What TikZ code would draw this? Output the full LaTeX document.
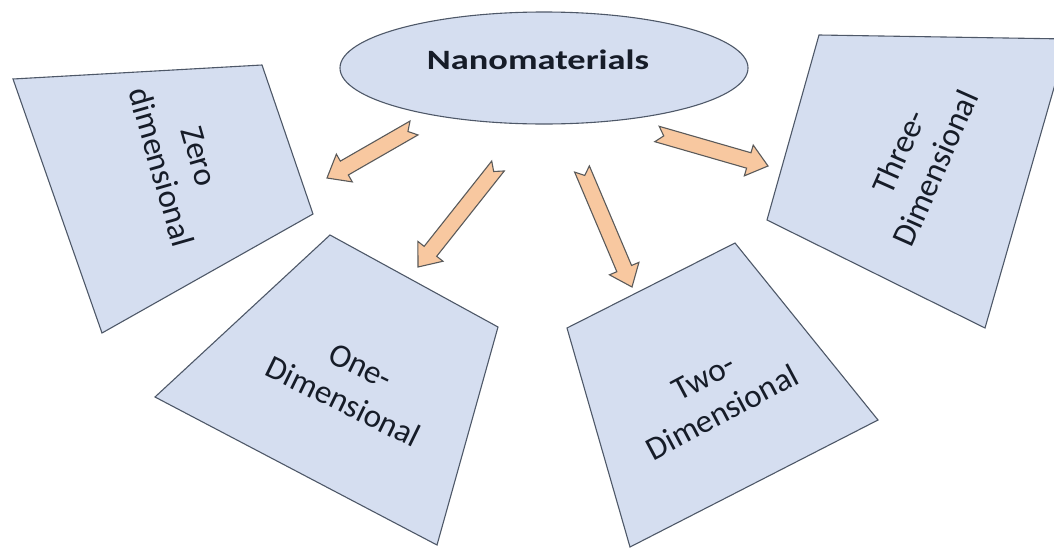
\documentclass[tikz,border=0pt]{standalone}
\usepackage{fontspec}
\setmainfont{Carlito}
\usepackage{tikz}
\usetikzlibrary{calc}
\usetikzlibrary{shapes.geometric}

\definecolor{facetfill}{HTML}{D5DEF0}
\definecolor{facetline}{HTML}{4E5868}
\definecolor{arrowfill}{HTML}{F8C8A0}
\definecolor{arrowline}{HTML}{5A5A5A}
\definecolor{inktext}{HTML}{161C28}

\begin{document}
\begin{tikzpicture}[x=1pt, y=-1pt,
    facet/.style={draw=facetline, fill=facetfill, line width=1.1pt, line join=miter},
    dimlabel/.style={align=center, text=inktext, font=\fontsize{33}{40}\selectfont},
    blockarrow/.style={draw=arrowline, fill=arrowfill, line width=1.1pt, line join=miter,
        to path={
            ($(\tikztostart)!8pt!90:(\tikztotarget)$)
            -- ($(\tikztotarget)!20pt!(\tikztostart)!8pt!-90:(\tikztostart)$)
            -- ($(\tikztotarget)!20pt!(\tikztostart)!16pt!-90:(\tikztostart)$)
            -- (\tikztotarget)
            -- ($(\tikztotarget)!20pt!(\tikztostart)!16pt!90:(\tikztostart)$)
            -- ($(\tikztotarget)!20pt!(\tikztostart)!8pt!90:(\tikztostart)$)
            -- ($(\tikztostart)!8pt!-90:(\tikztotarget)$)
            -- ($(\tikztostart)!7pt!(\tikztotarget)$)
            -- cycle}}]

    \useasboundingbox (0,0) rectangle (1054,549);
    \clip (0,0) rectangle (1054,549);

    % top
    \node [ellipse, draw=facetline, fill=facetfill, line width=1.1pt,
           minimum width=408pt, minimum height=112pt, inner sep=0pt] (nano) at (544,68) {};
    \node [text=inktext, font=\fontsize{28}{34}\selectfont\bfseries, xscale=1.3] (nanotext) at (538,60) {Nanomaterials};

    % facets
    \draw[facet] (13,79) -- (262,65) -- (313,214) -- (102,333) -- cycle;
    \draw[facet] (330,235) -- (498,327) -- (437,545) -- (155,397) -- cycle;
    \draw[facet] (735,243) -- (878,420) -- (630,547) -- (567,328) -- cycle;
    \draw[facet] (819,35) -- (1068,39) -- (985,328) -- (767,220) -- cycle;

    \node [dimlabel, rotate=-74] (zero) at (180,162) {Zero\\dimensional};
    \node [dimlabel, rotate=-26] (one) at (352,384) {One-\\Dimensional};
    \node [dimlabel, rotate=28] (two) at (713,395) {Two-\\Dimensional};
    \node [dimlabel, rotate=66] (three) at (917,160) {Three-\\Dimensional};

    % arrows
    \coordinate (t0) at (414,128);
    \coordinate (h0) at (327,178);
    \coordinate (t1) at (498,166);
    \coordinate (h1) at (418,267);
    \coordinate (t2) at (582,169);
    \coordinate (h2) at (632,287);
    \coordinate (t3) at (657,134);
    \coordinate (h3) at (768,166);

    \draw[blockarrow] (t0) to (h0);
    \draw[blockarrow] (t1) to (h1);
    \draw[blockarrow] (t2) to (h2);
    \draw[blockarrow] (t3) to (h3);

\end{tikzpicture}
\end{document}
